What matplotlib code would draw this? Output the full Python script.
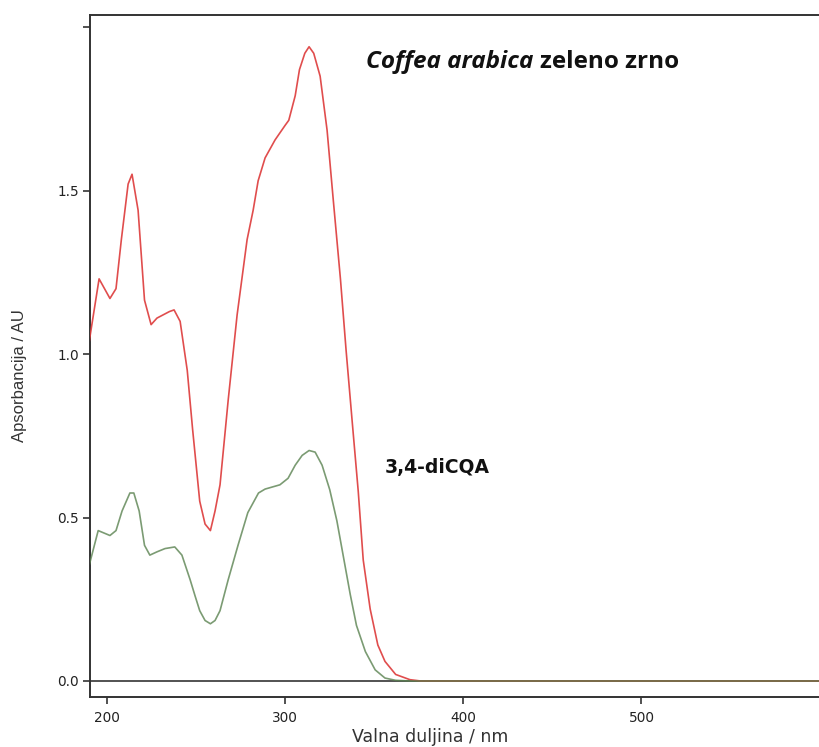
import matplotlib
matplotlib.use("Agg")
import matplotlib.pyplot as plt

# Wavelength (nm) and absorbance (AU)
wl_total = [190, 195.5, 201.6, 205, 208, 211.8, 214, 217.4, 221, 224.7, 228, 235, 237.6,
            241, 245, 248, 252, 255, 258, 260.6, 263.4, 268, 273, 278.6, 282, 284.8,
            288.7, 294.3, 300, 302, 305.6, 308, 311, 313.4, 316, 319.6, 323.5, 327,
            331, 334.2, 337.5, 341, 343.8, 347.7, 352, 356, 362, 370, 376, 390, 450,
            500, 550, 601]
abs_total = [1.04, 1.23, 1.17, 1.20, 1.35, 1.52, 1.55, 1.44, 1.165, 1.09, 1.11, 1.13, 1.135,
             1.10, 0.95, 0.77, 0.55, 0.48, 0.46, 0.52, 0.60, 0.86, 1.12, 1.35, 1.44, 1.53,
             1.60, 1.655, 1.70, 1.715, 1.79, 1.87, 1.92, 1.94, 1.92, 1.85, 1.685, 1.47,
             1.23, 1.01, 0.80, 0.58, 0.37, 0.22, 0.11, 0.06, 0.02, 0.004, 0.0, 0.0, 0.0,
             0.0, 0.0, 0.0]

wl_dicqa = [190, 195, 201.6, 205, 208.4, 212.8, 215, 218, 221, 224, 228, 232.5, 238, 242,
            246.6, 249.4, 252, 255, 258, 260.6, 263.4, 268, 273.5, 279, 285, 288.7, 297,
            301.6, 305.6, 309.5, 313.4, 316.8, 320.7, 325, 329, 333, 336.5, 340, 345,
            350.5, 356, 362, 370, 390, 450, 500, 550, 601]
abs_dicqa = [0.355, 0.46, 0.445, 0.46, 0.52, 0.575, 0.575, 0.52, 0.415, 0.385, 0.395, 0.405,
             0.41, 0.385, 0.31, 0.26, 0.215, 0.185, 0.175, 0.185, 0.215, 0.31, 0.415, 0.515,
             0.575, 0.587, 0.60, 0.62, 0.66, 0.69, 0.705, 0.70, 0.66, 0.585, 0.49, 0.37,
             0.265, 0.17, 0.09, 0.034, 0.009, 0.002, 0.0, 0.0, 0.0, 0.0, 0.0, 0.0]

y_ticks = [0.0, 0.5, 1.0, 1.5, 2.0]
y_ticklabels = ["0.0", "0.5", "1.0", "1.5", ""]
x_ticks = [200, 300, 400, 500, 600]
x_ticklabels = ["200", "300", "400", "500", ""]

W, H = 819, 747
fig = plt.figure(figsize=(W / 100, H / 100), dpi=100)
ax = fig.add_axes([90 / W, 1 - 697 / H, 1 - 90 / W + 0.002, (697 - 14.7) / H])
ax.set_xlim(190.4, 600.6)
ax.set_ylim(-0.049, 2.038)

spine_c = "#333333"
for s in ["left", "bottom", "top"]:
    ax.spines[s].set_color(spine_c)
    ax.spines[s].set_linewidth(1.4)
ax.spines["right"].set_visible(False)

ax.axhline(0, color="#444444", lw=1.3, zorder=1)

ax.plot(wl_total, abs_total, color="#dd3a3a", lw=1.2, alpha=0.9, zorder=3)
ax.plot(wl_dicqa, abs_dicqa, color="#5a8250", lw=1.2, alpha=0.8, zorder=4)

ax.set_yticks(y_ticks)
ax.set_yticklabels(y_ticklabels)
ax.set_xticks(x_ticks)
ax.set_xticklabels(x_ticklabels)
ax.tick_params(axis="both", direction="out", length=5, width=1.2, color=spine_c,
               labelsize=9.8, labelcolor="#222222")
ax.tick_params(axis="y", pad=3)
ax.tick_params(axis="x", pad=5)

fig.text(430 / W, 1 - 737 / H, "Valna duljina / nm", ha="center", va="center",
         fontsize=12.5, family="DejaVu Sans", color="#333333")
fig.text(20 / W, 1 - 376 / H, "Apsorbancija / AU", ha="center", va="center",
         rotation=90, fontsize=12, family="Liberation Sans", color="#333333")

t1 = fig.text(366 / W, 1 - 62 / H, "Coffea arabica", ha="left", va="center",
              fontsize=17.5, family="Open Sans", weight="bold", style="italic",
              color="#111111")
fig.canvas.draw()
bb = t1.get_window_extent()
fig.text((bb.x1 + 7) / W, 1 - 62 / H, "zeleno zrno", ha="left", va="center",
         fontsize=17.5, family="Open Sans", weight="bold", color="#111111")

fig.text(385 / W, 1 - 467 / H, "3,4-diCQA", ha="left", va="center",
         fontsize=13.5, family="DejaVu Sans", weight="bold", color="#111111")

fig.savefig("out.png", dpi=100)
